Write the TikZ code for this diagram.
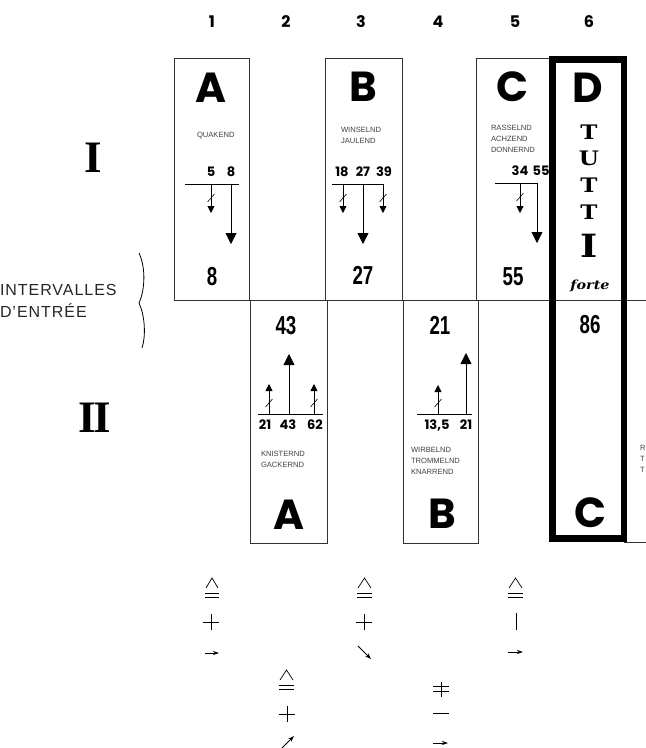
\documentclass[tikz,border=0pt]{standalone}
\usepackage{fontspec}
\setmainfont{Liberation Sans}
\newfontfamily\geo{Poppins}
\newfontfamily\cond{Liberation Sans}[FakeStretch=0.72]
\newfontfamily\slab{DejaVu Serif}[FakeStretch=1.15]
\newfontfamily\rom{Liberation Serif}
\newfontfamily\widesans{Liberation Sans}[LetterSpace=6]
\usetikzlibrary{arrows.meta}
\begin{document}
\begin{tikzpicture}[x=1pt,y=-1pt,
  every node/.style={inner sep=0pt,outer sep=0pt},
  box/.style={draw=black!80,line width=0.7pt},
  bigl/.style={font=\geo\bfseries\fontsize{42}{42}\selectfont},
  lbl/.style={font=\fontsize{7.6}{11}\selectfont,text=black!75,align=left,anchor=west},
  nums/.style={font=\geo\bfseries\fontsize{13}{13}\selectfont},
  colno/.style={font=\geo\bfseries\fontsize{16}{16}\selectfont},
  cnum/.style={font=\cond\bfseries\fontsize{26}{26}\selectfont},
  tut/.style={font=\slab\bfseries\fontsize{20}{20}\selectfont},
  rnum/.style={font=\rom\bfseries\fontsize{45}{45}\selectfont},
  baseln/.style={line width=1pt},
  larr/.style={line width=0.8pt,-{Triangle[width=11pt,length=11pt]}},
  sarr/.style={line width=0.8pt,-{Triangle[width=7pt,length=7pt]}},
  slash/.style={line width=0.6pt},
  sym/.style={line width=0.7pt},
  symarr/.style={line width=0.8pt,-{Stealth[width=4pt,length=6pt]}}
]
\useasboundingbox (0,0) rectangle (646,748);

% column numbers
\node[colno] (c1) at (212,22) {1};
\node[colno] (c2) at (286,22) {2};
\node[colno] (c3) at (361,22) {3};
\node[colno] (c4) at (438,22) {4};
\node[colno] (c5) at (515,22) {5};
\node[colno] (c6) at (589,22) {6};

% row labels
\node[rnum] (r1) at (93,158) {I};
\node[rnum] (r2) at (95,418) {I\kern-3pt I};
\node[font=\widesans\fontsize{16}{22}\selectfont,align=left,anchor=west,text=black!85] (iv) at (0,301) {INTERVALLES\\D’ENTRÉE};
\draw[line width=0.8pt] (139,253) .. controls (146,268) and (145,290) .. (139,303)
  .. controls (145,316) and (146,336) .. (142,348);

% boxes and grid lines
\draw[box] (174,58) rectangle (249,300);
\draw[box] (325,58) rectangle (402,300);
\draw[box] (476,58) rectangle (553,300);
\draw[box] (250,300) rectangle (327,543);
\draw[box] (403,300) rectangle (478,543);
\draw[box] (174,300) -- (646,300);
\draw[box] (624,542) -- (646,542);
\draw[line width=6.5pt] (552.5,59.5) rectangle (624,538.5);

% ---- column 1 (I A)
\node[bigl] (A1) at (211,88) {A};
\node[lbl] (A1l) at (197,136) {QUAKEND};
\node[nums] (A1n1) at (211,172) {5};
\node[nums] (A1n2) at (231,172) {8};
\coordinate (A1L) at (185,184); \coordinate (A1R) at (239,184);
\draw[baseln] (A1L) -- (A1R);
\coordinate (A1s) at (211,184); \coordinate (A1se) at (211,213);
\coordinate (A1t) at (231,184); \coordinate (A1te) at (231,244);
\draw[sarr] (A1s) -- (A1se);
\draw[larr] (A1t) -- (A1te);
\draw[slash] (207.5,202) -- (214.5,194);
\node[cnum] (A1x) at (212,277) {8};

% ---- column 3 (I B)
\node[bigl] (B1) at (363,87) {B};
\node[lbl] (B1l) at (341,135.5) {WINSELND\\JAULEND};
\node[nums] (B1n1) at (342,172) {18};
\node[nums] (B1n2) at (363,172) {27};
\node[nums] (B1n3) at (384,172) {39};
\coordinate (B1L) at (332,184); \coordinate (B1R) at (383,184);
\draw[baseln] (B1L) -- (B1R);
\coordinate (B1s) at (343,184); \coordinate (B1se) at (343,213);
\coordinate (B1u) at (383,184); \coordinate (B1ue) at (383,213);
\coordinate (B1t) at (363,184); \coordinate (B1te) at (363,244);
\draw[sarr] (B1s) -- (B1se);
\draw[sarr] (B1u) -- (B1ue);
\draw[larr] (B1t) -- (B1te);
\draw[slash] (339.5,202) -- (346.5,194);
\draw[slash] (379.5,202) -- (386.5,194);
\node[cnum] (B1x) at (363,275) {27};

% ---- column 5 (I C)
\node[bigl] (C1) at (512,87) {C};
\node[lbl] (C1l) at (491,138.5) {RASSELND\\ACHZEND\\DONNERND};
\node[nums] (C1n1) at (520,171) {34};
\node[nums] (C1n2) at (541,171) {55};
\coordinate (C1L) at (495,183); \coordinate (C1R) at (537,183);
\draw[baseln] (C1L) -- (C1R);
\coordinate (C1s) at (520,183); \coordinate (C1se) at (520,213);
\coordinate (C1t) at (537,183); \coordinate (C1te) at (537,243);
\draw[sarr] (C1s) -- (C1se);
\draw[larr] (C1t) -- (C1te);
\draw[slash] (516.5,201) -- (523.5,193);
\node[cnum] (C1x) at (513,277) {55};

% ---- column 6 (D TUTTI)
\node[bigl] (D1) at (588,88) {D};
\node[tut] (T1) at (589,132) {T};
\node[tut] (U1) at (589,158) {U};
\node[tut] (T2) at (589,185) {T};
\node[tut] (T3) at (589,212) {T};
\node[tut,font=\slab\bfseries\fontsize{32}{32}\selectfont] (I1) at (589,246) {I};
\node[font=\slab\bfseries\itshape\fontsize{12.5}{12.5}\selectfont] (fo) at (590,286) {forte};
\node[cnum] (D86) at (590,325) {86};
\node[bigl] (C6) at (590,513) {C};

% ---- column 2 (II A)
\node[cnum] (A2x) at (286,326) {43};
\coordinate (A2L) at (258,414); \coordinate (A2R) at (323,414);
\draw[baseln] (A2L) -- (A2R);
\coordinate (A2s) at (269,414); \coordinate (A2se) at (269,384);
\coordinate (A2u) at (314,414); \coordinate (A2ue) at (314,384);
\coordinate (A2t) at (289,414); \coordinate (A2te) at (289,354);
\draw[sarr] (A2s) -- (A2se);
\draw[sarr] (A2u) -- (A2ue);
\draw[larr] (A2t) -- (A2te);
\draw[slash] (265.5,407) -- (272.5,399);
\draw[slash] (310.5,407) -- (317.5,399);
\node[nums] (A2n1) at (265,425) {21};
\node[nums] (A2n2) at (288,425) {43};
\node[nums] (A2n3) at (315,425) {62};
\node[lbl] (A2l) at (261,459.5) {KNISTERND\\GACKERND};
\node[bigl] (A2) at (289,515) {A};

% ---- column 4 (II B)
\node[cnum] (B2x) at (440,325) {21};
\coordinate (B2L) at (417,414); \coordinate (B2R) at (472,414);
\draw[baseln] (B2L) -- (B2R);
\coordinate (B2s) at (438,414); \coordinate (B2se) at (438,385);
\coordinate (B2t) at (466,414); \coordinate (B2te) at (466,353);
\draw[sarr] (B2s) -- (B2se);
\draw[larr] (B2t) -- (B2te);
\draw[slash] (434.5,407) -- (441.5,399);
\node[nums] (B2n1) at (437,425) {13,5};
\node[nums] (B2n2) at (466,425) {21};
\node[lbl] (B2l) at (411,461) {WIRBELND\\TROMMELND\\KNARREND};
\node[bigl] (B2) at (442,514) {B};

% truncated column 7 text
\node[lbl] (R7) at (640,459) {R\\T\\T};

% ---- bottom symbols
% column 1
\draw[sym] (206,588) -- (212,578) -- (218,588);
\draw[sym] (205,593) -- (219,593); \draw[sym] (205,597.5) -- (219,597.5);
\draw[sym] (203,622) -- (219,622); \draw[sym] (211,614) -- (211,630);
\coordinate (s1a) at (205,653); \coordinate (s1b) at (219,653);
\draw[symarr] (s1a) -- (s1b);
% column 3
\draw[sym] (358,588) -- (364.5,578) -- (371,588);
\draw[sym] (357,593) -- (372,593); \draw[sym] (357,597.5) -- (372,597.5);
\draw[sym] (356,622) -- (372,622); \draw[sym] (364,614) -- (364,630);
\coordinate (s3a) at (358,646); \coordinate (s3b) at (371,659);
\draw[symarr] (s3a) -- (s3b);
% column 5
\draw[sym] (509,588) -- (515.5,578) -- (522,588);
\draw[sym] (508,593) -- (523,593); \draw[sym] (508,597.5) -- (523,597.5);
\draw[sym] (516,613) -- (516,630);
\coordinate (s5a) at (508,652); \coordinate (s5b) at (523,652);
\draw[symarr] (s5a) -- (s5b);
% column 2
\draw[sym] (280,680) -- (286.5,670) -- (293,680);
\draw[sym] (279,685) -- (294,685); \draw[sym] (279,689.5) -- (294,689.5);
\draw[sym] (279,714) -- (295,714); \draw[sym] (287,706) -- (287,722);
\coordinate (s2a) at (282,748); \coordinate (s2b) at (294,736);
\draw[symarr] (s2a) -- (s2b);
% column 4
\draw[sym] (433,686) -- (449,686); \draw[sym] (433,691) -- (449,691);
\draw[sym] (441,682) -- (441,697);
\draw[sym] (433,713) -- (449,713);
\coordinate (s4a) at (433,743); \coordinate (s4b) at (448,743);
\draw[symarr] (s4a) -- (s4b);
\end{tikzpicture}
\end{document}
